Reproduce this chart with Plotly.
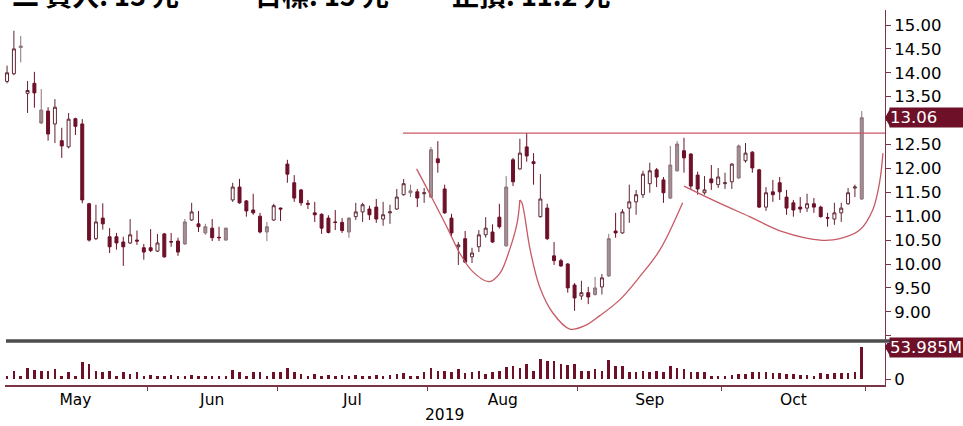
import numpy as np
import plotly.graph_objects as go

# ---------------- data ----------------
month_labels = ["May", "Jun", "Jul", "Aug", "Sep", "Oct"]
month_days = [21, 19, 22, 22, 21, 21]
year_label = "2019"

opens = [13.82, 13.98, 14.56, 13.57, 13.78, 13.22, 13.20, 12.93, 12.58, 12.45,
         13.04, 12.93, 11.26, 10.53, 10.96, 10.57, 10.57, 10.46, 10.44, 10.50,
         10.34, 10.34, 10.27, 10.63, 10.47, 10.48, 10.42, 10.92, 10.84, 10.65,
         10.75, 10.56, 10.50, 11.34, 11.61, 11.32, 11.13, 11.00, 10.67, 10.92,
         11.17, 12.09, 11.70, 11.55, 11.27, 11.07, 11.04, 10.96, 10.88, 10.87,
         10.67, 10.99, 11.09, 11.15, 11.19, 10.94, 11.07, 11.15, 11.45, 11.49,
         11.51, 11.47, 11.40, 12.20, 11.57, 10.96, 10.36, 10.53, 10.15, 10.36,
         10.61, 10.67, 10.98, 10.38, 12.18, 11.99, 12.45, 12.14, 10.99, 11.17,
         10.17, 10.07, 10.00, 9.56, 9.33, 9.40, 9.36, 9.52, 9.75, 10.69,
         10.65, 11.17, 11.30, 11.45, 11.68, 11.97, 11.76, 11.38, 11.95, 12.37,
         12.30, 11.86, 11.49, 11.78, 11.66, 11.68, 11.72, 11.80, 12.16, 12.34,
         11.97, 11.19, 11.51, 11.70, 11.40, 11.28, 11.19, 11.17, 11.26, 11.19,
         10.97, 10.94, 11.07, 11.26, 11.59, 11.36]
highs = [14.15, 14.88, 14.77, 13.83, 14.02, 13.66, 13.28, 13.45, 12.85, 13.16,
         13.06, 13.03, 11.28, 11.24, 11.27, 10.75, 10.65, 10.57, 10.94, 10.70,
         10.42, 10.73, 10.63, 10.65, 10.65, 10.55, 10.94, 11.28, 11.11, 10.84,
         10.94, 10.78, 10.76, 11.70, 11.78, 11.34, 11.47, 11.07, 10.88, 11.26,
         11.18, 12.18, 11.86, 11.57, 11.34, 11.30, 11.06, 11.02, 11.13, 10.96,
         10.98, 11.28, 11.28, 11.22, 11.36, 11.30, 11.24, 11.57, 11.78, 11.66,
         11.57, 11.59, 12.45, 12.57, 11.66, 11.05, 10.46, 10.69, 10.34, 10.71,
         10.98, 10.83, 11.26, 11.84, 12.22, 12.62, 12.74, 12.32, 11.88, 11.26,
         10.46, 10.11, 10.02, 9.60, 9.65, 9.52, 9.73, 9.79, 10.63, 11.07,
         11.15, 11.66, 11.55, 11.95, 12.12, 12.01, 11.82, 12.47, 12.57, 12.64,
         12.32, 11.93, 11.84, 12.07, 12.01, 11.91, 12.11, 12.50, 12.53, 12.36,
         11.99, 11.61, 11.76, 11.82, 11.55, 11.34, 11.40, 11.47, 11.38, 11.22,
         11.07, 11.28, 11.28, 11.59, 11.66, 13.20]
lows = [13.78, 13.95, 14.22, 13.16, 13.27, 12.93, 12.58, 12.53, 12.22, 12.42,
        12.70, 11.27, 10.47, 10.50, 10.72, 10.23, 10.30, 9.96, 10.42, 10.40,
        10.09, 10.25, 10.25, 10.13, 10.36, 10.17, 10.40, 10.90, 10.67, 10.61,
        10.48, 10.48, 10.49, 11.30, 11.26, 10.99, 11.03, 10.64, 10.48, 10.90,
        10.90, 11.70, 11.30, 11.22, 11.15, 10.88, 10.63, 10.64, 10.71, 10.65,
        10.55, 10.92, 10.88, 10.92, 10.86, 10.80, 10.84, 11.13, 11.43, 11.40,
        11.19, 11.28, 11.38, 11.91, 11.05, 10.57, 9.98, 10.02, 10.02, 10.25,
        10.55, 10.44, 10.74, 10.36, 11.63, 11.97, 12.14, 11.66, 10.97, 10.50,
        9.98, 9.94, 9.40, 9.02, 9.25, 9.16, 9.34, 9.36, 9.73, 10.55,
        10.63, 10.86, 11.03, 11.38, 11.49, 11.61, 11.28, 11.36, 11.93, 11.91,
        11.55, 11.45, 11.45, 11.55, 11.59, 11.57, 11.57, 11.78, 12.12, 11.91,
        11.17, 11.11, 11.30, 11.34, 11.03, 10.99, 11.07, 11.09, 11.07, 10.97,
        10.78, 10.82, 10.88, 11.24, 11.40, 11.34]
closes = [14.00, 14.50, 14.53, 13.63, 13.58, 12.95, 12.72, 13.28, 12.47, 13.03,
          12.88, 11.34, 10.50, 10.88, 10.84, 10.36, 10.44, 10.36, 10.61, 10.48,
          10.25, 10.28, 10.44, 10.15, 10.46, 10.25, 10.88, 11.09, 10.78, 10.78,
          10.55, 10.55, 10.75, 11.61, 11.28, 11.11, 11.07, 10.67, 10.78, 11.22,
          11.15, 11.88, 11.38, 11.28, 11.25, 11.03, 10.75, 10.66, 10.87, 10.70,
          10.96, 11.09, 11.24, 11.03, 10.94, 11.03, 11.09, 11.40, 11.68, 11.53,
          11.38, 11.49, 12.39, 12.12, 11.07, 10.65, 10.40, 10.04, 10.23, 10.61,
          10.75, 10.46, 10.78, 11.61, 11.72, 12.32, 12.26, 12.10, 11.36, 10.53,
          10.07, 9.96, 9.50, 9.29, 9.40, 9.31, 9.50, 9.71, 10.53, 10.65,
          11.09, 11.30, 11.45, 11.88, 11.95, 11.82, 11.49, 12.07, 12.51, 12.22,
          11.63, 11.57, 11.55, 11.70, 11.82, 11.70, 12.09, 12.47, 12.32, 12.01,
          11.19, 11.49, 11.45, 11.51, 11.17, 11.13, 11.15, 11.26, 11.19, 10.99,
          10.96, 11.07, 11.17, 11.49, 11.61, 13.06]
gray_idx = [2, 5, 26, 29, 32, 38, 50, 59, 62, 73, 86, 88, 97, 98, 107, 125]

volumes = [5.1, 13.5, 5.4, 18.6, 15.2, 13.3, 13.6, 16.9, 5.2, 11.8,
           5.0, 28.7, 25.4, 13.4, 11.9, 13.5, 5.3, 11.7, 8.5, 11.8,
           5.1, 6.8, 5.0, 5.2, 6.7, 5.1, 5.3, 6.9, 5.0, 5.2,
           5.1, 5.3, 5.0, 15.2, 11.8, 5.1, 11.7, 11.9, 5.2, 11.8,
           11.6, 18.6, 11.8, 8.5, 5.1, 8.4, 5.0, 6.8, 5.2, 6.7,
           5.1, 6.9, 5.0, 5.3, 6.8, 5.1, 6.7, 8.5, 10.1, 5.2,
           5.1, 11.8, 18.6, 13.5, 13.4, 11.8, 16.9, 10.1, 11.7, 13.5,
           8.5, 11.8, 13.5, 20.3, 22.0, 18.6, 25.4, 13.5, 33.8, 30.4,
           30.4, 25.4, 23.7, 25.4, 13.5, 13.5, 16.9, 13.5, 32.1, 22.0,
           22.0, 11.8, 11.8, 13.5, 11.8, 13.5, 11.8, 22.0, 18.6, 16.9,
           11.8, 11.8, 11.8, 5.1, 5.1, 5.1, 6.8, 8.5, 8.5, 11.8,
           11.8, 11.8, 10.1, 10.1, 8.5, 8.5, 6.8, 6.8, 5.1, 10.1,
           8.5, 10.1, 10.1, 10.1, 11.8, 53.985]

resist_level = 12.74
resist_start = 57.9

arc1_x = [59.9, 62.3, 64.3, 66.2, 68.1, 70.5, 72.1, 73.5, 74.6, 75.0]
arc1_y = [11.99, 11.34, 10.78, 10.23, 9.84, 9.63, 9.81, 10.30, 10.86, 11.34]
arc2_x = [75.0, 75.3, 76.5, 77.9, 79.8, 82.3, 84.5, 86.7, 89.6, 92.5, 95.5, 98.8]
arc2_y = [11.34, 11.28, 10.30, 9.52, 8.98, 8.64, 8.71, 8.92, 9.25, 9.73, 10.30, 11.28]
arc3_x = [99.0, 103.8, 108.6, 113.5, 118.9, 121.8, 124.7, 126.6, 127.6, 128.1]
arc3_y = [11.63, 11.30, 10.99, 10.67, 10.50, 10.53, 10.71, 11.13, 11.70, 12.32]

header_texts = ["二 買入: 13 元", "目標: 15 元", "止損: 11.2 元"]
header_px = [10, 253, 450]

# ---------------- styling ----------------
W, H = 963, 426
ML, MR, MT, MB = 5, 78, 10, 41
MAROON = "#6d1028"
HOLLOW_LINE = "#5e2632"
GRAY_FILL = "#a38f95"
GRAY_LINE = "#8c7379"
AXIS = "#7a3646"
ARC = "#c85a64"
FONT = "DejaVu Sans"
FS = 16.5

x_min, x_max = -0.3, 128.4
idx = list(range(len(closes)))

bounds = np.cumsum([0] + month_days) - 0.5
centers = (bounds[:-1] + bounds[1:]) / 2

norm = [i for i in idx if i not in gray_idx]

fig = go.Figure()

fig.add_trace(go.Candlestick(
    x=norm, open=[opens[i] for i in norm], high=[highs[i] for i in norm],
    low=[lows[i] for i in norm], close=[closes[i] for i in norm],
    increasing=dict(fillcolor="white", line=dict(color=HOLLOW_LINE, width=1)),
    decreasing=dict(fillcolor=MAROON, line=dict(color=MAROON, width=1)),
    whiskerwidth=0, showlegend=False, xaxis="x", yaxis="y"))

fig.add_trace(go.Candlestick(
    x=gray_idx, open=[opens[i] for i in gray_idx], high=[highs[i] for i in gray_idx],
    low=[lows[i] for i in gray_idx], close=[closes[i] for i in gray_idx],
    increasing=dict(fillcolor=GRAY_FILL, line=dict(color=GRAY_LINE, width=1)),
    decreasing=dict(fillcolor=GRAY_FILL, line=dict(color=GRAY_LINE, width=1)),
    whiskerwidth=0, showlegend=False, xaxis="x", yaxis="y"))

fig.add_trace(go.Scatter(x=[resist_start, x_max], y=[resist_level, resist_level],
                         mode="lines", line=dict(color=ARC, width=1.2),
                         showlegend=False, xaxis="x", yaxis="y"))
for ax_, ay_ in [(arc1_x, arc1_y), (arc2_x, arc2_y), (arc3_x, arc3_y)]:
    fig.add_trace(go.Scatter(x=ax_, y=ay_, mode="lines",
                             line=dict(color=ARC, width=1.3, shape="spline", smoothing=1.0),
                             showlegend=False, xaxis="x", yaxis="y"))

fig.add_trace(go.Bar(x=idx, y=volumes, marker=dict(color=MAROON, line=dict(width=0)),
                     width=0.38, showlegend=False, xaxis="x", yaxis="y2"))

price_ticks = [8.5 + 0.5 * k for k in range(14)]
price_text = ["" if v < 9 else f"{v:.2f}" for v in price_ticks]

plot_h = H - MT - MB
def py(px):  # pixel row -> paper y
    return (H - MB - px) / plot_h
def pxx(px):  # pixel col -> paper x
    return (px - ML) / (W - ML - MR)

fig.update_layout(
    width=W, height=H, margin=dict(l=ML, r=MR, t=MT, b=MB),
    paper_bgcolor="white", plot_bgcolor="white",
    font=dict(family=FONT, size=FS, color="black"),
    boxgap=0.38,
    bargap=0,
    xaxis=dict(range=[x_min, x_max], anchor="y2", rangeslider=dict(visible=False),
               showgrid=False, zeroline=False, showline=True, linecolor=AXIS, linewidth=1.5,
               tickmode="array", tickvals=list(centers), ticktext=month_labels, ticks="",
               tickfont=dict(family=FONT, size=15.5, color="black"),
               minor=dict(tickmode="array", tickvals=list(bounds), ticks="outside",
                          ticklen=4, tickcolor=AXIS, tickwidth=1, showgrid=False)),
    yaxis=dict(domain=[py(340), 1], range=[8.41, 15.314], side="right",
               showgrid=False, zeroline=False, showline=True, linecolor=AXIS, linewidth=1,
               tickmode="array", tickvals=price_ticks, ticktext=price_text,
               ticks="outside", ticklen=5, tickcolor=AXIS,
               tickfont=dict(family=FONT, size=FS, color="black")),
    yaxis2=dict(domain=[0, py(343)], range=[-10.1, 60.8], side="right",
                showgrid=False, zeroline=False, showline=True, linecolor=AXIS, linewidth=1,
                tickmode="array", tickvals=[0, 50], ticktext=["0", "50.0"],
                ticks="outside", ticklen=5, tickcolor=AXIS,
                tickfont=dict(family=FONT, size=FS, color="black")),
)

shapes = [
    dict(type="line", xref="paper", yref="paper", x0=pxx(6), x1=pxx(W + 5),
         y0=py(341), y1=py(341), line=dict(color="#4d4d4d", width=3.5)),
    dict(type="path", xref="paper", yref="y", xsizemode="pixel", ysizemode="pixel",
         xanchor=1, yanchor=closes[-1], path="M 0,0 L 5,9 L 5,-9 Z",
         fillcolor=MAROON, line=dict(width=0)),
    dict(type="path", xref="paper", yref="y2", xsizemode="pixel", ysizemode="pixel",
         xanchor=1, yanchor=volumes[-1], path="M 0,0 L 5,9 L 5,-9 Z",
         fillcolor=MAROON, line=dict(width=0)),
]
fig.update_layout(shapes=shapes)

annotations = [
    dict(xref="paper", yref="y", x=1, y=closes[-1], xanchor="left", yanchor="middle",
         xshift=4, text=f"{closes[-1]:.2f}", showarrow=False, bgcolor=MAROON,
         font=dict(family=FONT, size=FS, color="white"), width=84, align="left",
         borderpad=0),
    dict(xref="paper", yref="y2", x=1, y=volumes[-1], xanchor="left", yanchor="middle",
         xshift=4, text=f"{volumes[-1]:.3f}M", showarrow=False, bgcolor=MAROON,
         font=dict(family=FONT, size=FS, color="white"), width=84, align="left",
         borderpad=0),
    dict(xref="x", yref="paper", x=64, y=py(415), xanchor="center", yanchor="middle",
         text=year_label, showarrow=False, font=dict(family=FONT, size=15.5, color="black")),
]
for t, p in zip(header_texts, header_px):
    annotations.append(dict(xref="paper", yref="paper", x=pxx(p), y=py(-5),
                            xanchor="left", yanchor="middle", text=f"<b>{t}</b>",
                            showarrow=False,
                            font=dict(family="Noto Sans CJK TC", size=27, color="black")))
fig.update_layout(annotations=annotations)

fig.write_html("out.html", config={"displayModeBar": False},
               post_script="document.body.style.margin='0px';document.body.style.overflow='hidden';")
